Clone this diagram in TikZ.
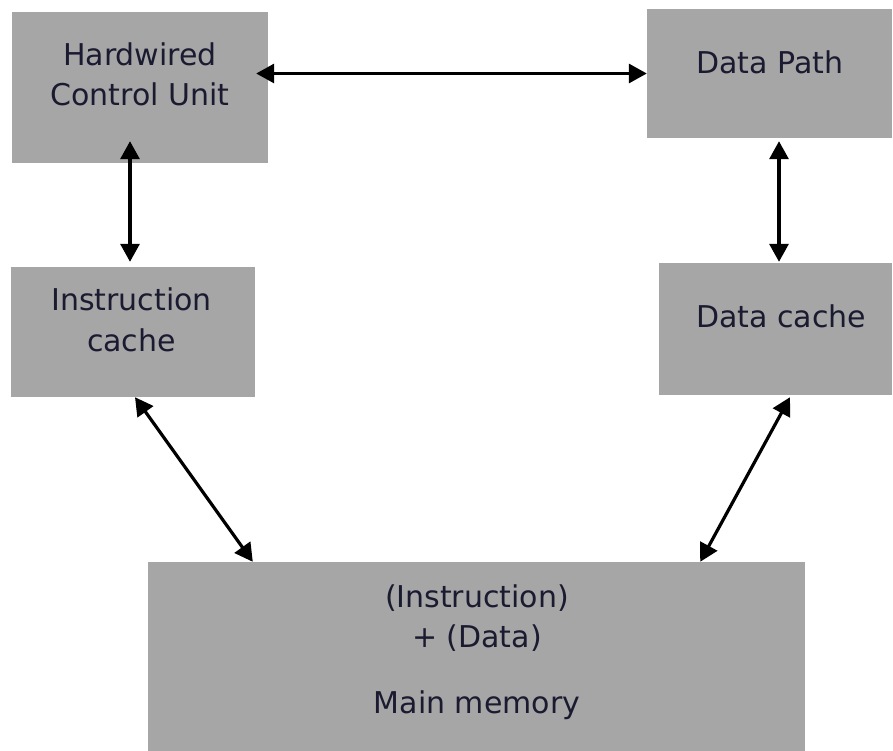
\documentclass[tikz,border=0pt]{standalone}
\usepackage{fontspec}
\setmainfont{DejaVu Sans}
\usepackage{tikz}
\usetikzlibrary{calc,arrows.meta}
\usepackage{xcolor}
\definecolor{boxgray}{RGB}{166,166,166}
\definecolor{txtnavy}{RGB}{26,26,48}

\begin{document}
\begin{tikzpicture}[x=1pt,y=1pt,
  box/.style={fill=boxgray, inner sep=0pt},
  lbl/.style={text=txtnavy, align=center, font=\fontsize{30}{40.5}\selectfont},
  link/.style={line width=3.2pt, {Triangle[length=18pt,width=19pt]}-{Triangle[length=18pt,width=19pt]}}]
\useasboundingbox (0,0) rectangle (893,-751);
\node [box, minimum width=256pt, minimum height=151pt] (hcu) at (140,-87.5) {};
\node [lbl] at ($(hcu)+(0,13)$) {Hardwired\\Control Unit};
\node [box, minimum width=245pt, minimum height=129pt] (dp) at (769.5,-73.5) {};
\node [lbl] at ($(dp)+(0.5,11.5)$) {Data Path};
\node [box, minimum width=244pt, minimum height=130pt] (ic) at (133,-332) {};
\node [lbl] at ($(ic)+(-1.5,12)$) {Instruction\\cache};
\node [box, minimum width=233pt, minimum height=132pt] (dc) at (775.5,-329) {};
\node [lbl] at ($(dc)+(5.5,13)$) {Data cache};
\node [box, minimum width=657pt, minimum height=189pt] (mm) at (476.5,-656.5) {};
\node [lbl] at ($(mm)+(0.5,4.5)$) {(Instruction)\\+ (Data)\\[25pt]Main memory};
\draw [link] ($(hcu.east |- dp.west)+(-12,0)$) -- (dp.west);
\draw [link] ($(hcu.south)+(-10,22)$) -- ($(ic.north)+(-3,5)$);
\draw [link] ($(dp.south)+(9.5,-3)$) -- ($(dc.north)+(3.5,1)$);
\draw [link] ($(ic.south)+(2,0)$) -- ($(mm.north west)+(105,0)$);
\draw [link] ($(dc.south)+(14.5,-2)$) -- ($(mm.north east)+(-105,0)$);
\end{tikzpicture}
\end{document}
